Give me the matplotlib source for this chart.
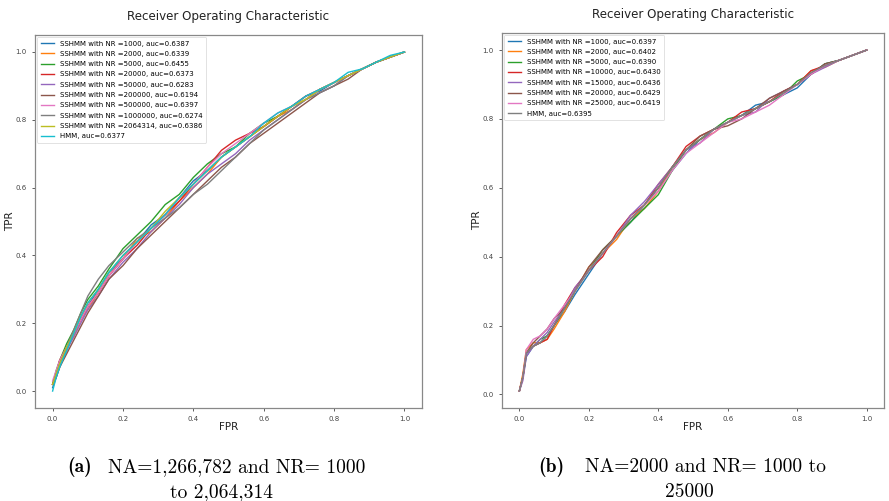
import matplotlib.pyplot as plt

# common FPR grid
fpr = [0, 0.01, 0.02, 0.04, 0.06, 0.08, 0.10, 0.13, 0.16, 0.20, 0.24, 0.28, 0.32, 0.36, 0.40,
       0.44, 0.48, 0.52, 0.56, 0.60, 0.64, 0.68, 0.72, 0.76, 0.80, 0.84, 0.88, 0.92, 0.96, 1.0]

# panel (a): NA=1,266,782
labels_a = ["SSHMM with NR =1000, auc=0.6387", "SSHMM with NR =2000, auc=0.6339",
            "SSHMM with NR =5000, auc=0.6455", "SSHMM with NR =20000, auc=0.6373",
            "SSHMM with NR =50000, auc=0.6283", "SSHMM with NR =200000, auc=0.6194",
            "SSHMM with NR =500000, auc=0.6397", "SSHMM with NR =1000000, auc=0.6274",
            "SSHMM with NR =2064314, auc=0.6386", "HMM, auc=0.6377"]
tpr_a = [
    [0.01, 0.04, 0.08, 0.12, 0.17, 0.21, 0.25, 0.30, 0.35, 0.39, 0.44, 0.49, 0.52, 0.57, 0.62, 0.65, 0.69, 0.72, 0.75, 0.78, 0.81, 0.84, 0.87, 0.885, 0.91, 0.93, 0.95, 0.97, 0.985, 1.0],
    [0.02, 0.05, 0.09, 0.13, 0.16, 0.21, 0.24, 0.29, 0.34, 0.39, 0.45, 0.47, 0.51, 0.56, 0.60, 0.64, 0.69, 0.72, 0.75, 0.78, 0.81, 0.83, 0.86, 0.89, 0.91, 0.93, 0.95, 0.97, 0.985, 1.0],
    [0.02, 0.06, 0.09, 0.14, 0.18, 0.23, 0.27, 0.31, 0.36, 0.42, 0.46, 0.50, 0.55, 0.58, 0.63, 0.67, 0.70, 0.72, 0.76, 0.79, 0.81, 0.84, 0.86, 0.89, 0.91, 0.93, 0.95, 0.97, 0.985, 1.0],
    [0.02, 0.05, 0.09, 0.13, 0.17, 0.21, 0.25, 0.29, 0.34, 0.39, 0.43, 0.48, 0.52, 0.56, 0.61, 0.66, 0.71, 0.74, 0.76, 0.78, 0.81, 0.84, 0.87, 0.89, 0.91, 0.93, 0.95, 0.97, 0.985, 1.0],
    [0.02, 0.04, 0.07, 0.12, 0.16, 0.20, 0.24, 0.28, 0.33, 0.38, 0.42, 0.47, 0.51, 0.55, 0.60, 0.64, 0.67, 0.70, 0.74, 0.77, 0.80, 0.83, 0.86, 0.88, 0.90, 0.93, 0.95, 0.97, 0.985, 1.0],
    [0.02, 0.04, 0.07, 0.11, 0.15, 0.19, 0.23, 0.28, 0.33, 0.37, 0.42, 0.46, 0.50, 0.54, 0.58, 0.62, 0.66, 0.69, 0.73, 0.76, 0.79, 0.82, 0.85, 0.88, 0.90, 0.92, 0.95, 0.97, 0.985, 1.0],
    [0.03, 0.06, 0.09, 0.13, 0.17, 0.21, 0.25, 0.29, 0.34, 0.39, 0.44, 0.48, 0.52, 0.57, 0.61, 0.66, 0.70, 0.73, 0.76, 0.79, 0.82, 0.84, 0.86, 0.89, 0.91, 0.93, 0.95, 0.97, 0.985, 1.0],
    [0.02, 0.05, 0.08, 0.13, 0.18, 0.23, 0.28, 0.33, 0.37, 0.41, 0.45, 0.48, 0.51, 0.54, 0.58, 0.61, 0.65, 0.69, 0.73, 0.77, 0.80, 0.83, 0.86, 0.88, 0.90, 0.93, 0.95, 0.97, 0.985, 1.0],
    [0.02, 0.05, 0.08, 0.13, 0.17, 0.22, 0.26, 0.30, 0.35, 0.40, 0.44, 0.48, 0.53, 0.57, 0.61, 0.65, 0.69, 0.72, 0.75, 0.78, 0.81, 0.84, 0.86, 0.89, 0.91, 0.93, 0.95, 0.97, 0.985, 1.0],
    [0.00, 0.04, 0.07, 0.12, 0.17, 0.22, 0.26, 0.30, 0.35, 0.40, 0.44, 0.48, 0.52, 0.57, 0.61, 0.65, 0.69, 0.72, 0.75, 0.79, 0.82, 0.84, 0.87, 0.89, 0.91, 0.94, 0.95, 0.97, 0.99, 1.0],
]
colors_a = ["#1f77b4", "#ff7f0e", "#2ca02c", "#d62728", "#9467bd", "#8c564b",
            "#e377c2", "#7f7f7f", "#bcbd22", "#17becf"]

# panel (b): NA=2000
labels_b = ["SSHMM with NR =1000, auc=0.6397", "SSHMM with NR =2000, auc=0.6402",
            "SSHMM with NR =5000, auc=0.6390", "SSHMM with NR =10000, auc=0.6430",
            "SSHMM with NR =15000, auc=0.6436", "SSHMM with NR =20000, auc=0.6429",
            "SSHMM with NR =25000, auc=0.6419", "HMM, auc=0.6395"]
tpr_b = [
    [0.01, 0.05, 0.11, 0.14, 0.15, 0.17, 0.20, 0.24, 0.29, 0.35, 0.41, 0.46, 0.50, 0.55, 0.60, 0.65, 0.70, 0.74, 0.77, 0.79, 0.81, 0.84, 0.85, 0.87, 0.89, 0.93, 0.96, 0.97, 0.985, 1.0],
    [0.01, 0.06, 0.13, 0.15, 0.15, 0.16, 0.19, 0.24, 0.30, 0.37, 0.41, 0.45, 0.51, 0.54, 0.59, 0.66, 0.71, 0.74, 0.76, 0.79, 0.81, 0.83, 0.85, 0.88, 0.90, 0.94, 0.95, 0.97, 0.985, 1.0],
    [0.01, 0.05, 0.12, 0.14, 0.16, 0.17, 0.20, 0.25, 0.30, 0.36, 0.42, 0.46, 0.50, 0.54, 0.58, 0.65, 0.71, 0.74, 0.77, 0.80, 0.81, 0.83, 0.85, 0.87, 0.91, 0.93, 0.96, 0.97, 0.985, 1.0],
    [0.01, 0.05, 0.12, 0.14, 0.15, 0.16, 0.20, 0.26, 0.31, 0.36, 0.40, 0.47, 0.52, 0.55, 0.61, 0.66, 0.72, 0.75, 0.77, 0.79, 0.82, 0.83, 0.85, 0.88, 0.90, 0.94, 0.955, 0.97, 0.985, 1.0],
    [0.01, 0.04, 0.11, 0.14, 0.16, 0.18, 0.21, 0.25, 0.31, 0.36, 0.41, 0.46, 0.52, 0.56, 0.61, 0.66, 0.71, 0.73, 0.77, 0.79, 0.81, 0.82, 0.86, 0.88, 0.90, 0.93, 0.95, 0.97, 0.985, 1.0],
    [0.01, 0.05, 0.12, 0.15, 0.17, 0.19, 0.22, 0.25, 0.30, 0.37, 0.42, 0.46, 0.51, 0.55, 0.60, 0.66, 0.71, 0.75, 0.77, 0.78, 0.80, 0.83, 0.86, 0.88, 0.90, 0.93, 0.96, 0.97, 0.985, 1.0],
    [0.01, 0.05, 0.13, 0.16, 0.17, 0.19, 0.22, 0.26, 0.30, 0.36, 0.41, 0.46, 0.51, 0.55, 0.59, 0.65, 0.70, 0.73, 0.76, 0.79, 0.80, 0.82, 0.84, 0.87, 0.90, 0.93, 0.955, 0.97, 0.985, 1.0],
    [0.01, 0.05, 0.12, 0.14, 0.15, 0.17, 0.20, 0.25, 0.30, 0.36, 0.41, 0.46, 0.51, 0.55, 0.60, 0.66, 0.71, 0.74, 0.77, 0.79, 0.81, 0.83, 0.85, 0.875, 0.90, 0.935, 0.955, 0.97, 0.985, 1.0],
]
colors_b = colors_a[:7] + ["#7f7f7f"]

captions = [("(a)", "NA=1,266,782 and NR= 1000", "to 2,064,314"),
            ("(b)", "NA=2000 and NR= 1000 to", "25000")]

fig = plt.figure(figsize=(8.89, 5.01), dpi=100)
ax_a = fig.add_axes([0.0394, 0.1856, 0.4353, 0.7445])
ax_b = fig.add_axes([0.5647, 0.1856, 0.4297, 0.7485])

for ax, tprs, labels, colors in [(ax_a, tpr_a, labels_a, colors_a),
                                 (ax_b, tpr_b, labels_b, colors_b)]:
    for t, lab, c in zip(tprs, labels, colors):
        ax.plot(fpr, t, color=c, lw=1.0, label=lab)
    ax.set_title("Receiver Operating Characteristic", fontsize=8.6, color="#222222", pad=11)
    ax.set_xlabel("FPR", fontsize=7.5, color="#222222", labelpad=0)
    ax.set_ylabel("TPR", fontsize=7.5, color="#222222", labelpad=0)
    ax.set_xticks([0, 0.2, 0.4, 0.6, 0.8, 1.0])
    ax.set_yticks([0, 0.2, 0.4, 0.6, 0.8, 1.0])
    ax.tick_params(labelsize=5, colors="#444444", length=2.5, width=0.6)
    for s in ax.spines.values():
        s.set_color("#888888")
        s.set_linewidth(0.9)
    leg = ax.legend(loc="upper left", fontsize=5, handlelength=2.0, labelspacing=0.62,
                    borderaxespad=0.3, borderpad=0.5, framealpha=1.0)
    leg.get_frame().set_edgecolor("#dddddd")
    leg.get_frame().set_linewidth(0.6)

# sub-captions under each panel: bold tag + roman text, second line centred
for (tag, line1, line2), (x_tag, x_text, x_line2) in zip(captions, [(67, 108, 222), (538, 585, 689)]):
    y1 = 1 - 467 / 501
    y2 = 1 - 492 / 501
    fig.text(x_tag / 889, y1, tag, fontname="cmb10", fontsize=14, ha="left", va="center")
    fig.text(x_text / 889, y1, line1, fontname="cmr10", fontsize=14, ha="left", va="center")
    fig.text(x_line2 / 889, y2, line2, fontname="cmr10", fontsize=14, ha="center", va="center")

fig.savefig("out.png", dpi=100)
